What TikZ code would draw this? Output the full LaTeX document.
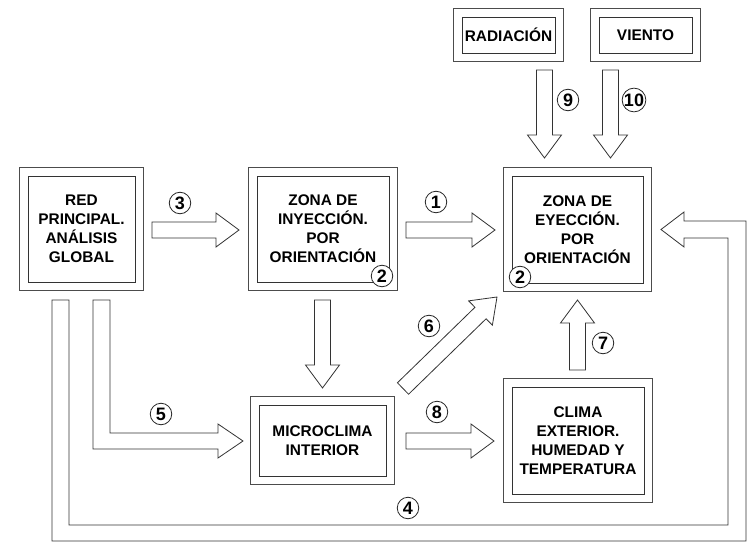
\documentclass[tikz,border=0pt]{standalone}
\usepackage{fontspec}
\setmainfont{Liberation Sans}
\usetikzlibrary{calc}

\tikzset{
  box/.style={draw=black!80, line width=0.8pt, align=center, inner sep=0pt,
    font=\fontsize{15.4}{19}\selectfont\bfseries},
  frame/.style={draw=black!70, line width=0.8pt},
  num/.style={circle, draw=black!85, fill=white, line width=0.8pt, inner sep=0pt,
    minimum size=21.5pt, font=\fontsize{18}{18}\selectfont\bfseries},
  blockarr/.style={draw=black!80, line width=0.8pt, fill=white, line join=miter}
}

% block arrow from tail #1 to tip #2
\newcommand{\blockarrow}[2]{%
  \coordinate (ba-c) at ($(#2)!23pt!(#1)$);
  \draw[blockarr] ($(#1)!8pt!90:(#2)$) -- ($(ba-c)!8pt!90:(#2)$)
    -- ($(ba-c)!17pt!90:(#2)$) -- (#2) -- ($(ba-c)!17pt!-90:(#2)$)
    -- ($(ba-c)!8pt!-90:(#2)$) -- ($(#1)!8pt!-90:(#2)$) -- cycle;}

\begin{document}
\begin{tikzpicture}[x=1pt,y=-1pt]
\useasboundingbox (0,0) rectangle (747,543);

% boxes (inner frame)
\node[box, minimum width=107pt, minimum height=106pt] (red) at (81.5,229) {RED\\PRINCIPAL.\\ANÁLISIS\\GLOBAL};
\node[box, minimum width=132pt, minimum height=106pt] (iny) at (323,229) {ZONA DE\\INYECCIÓN.\\POR\\ORIENTACIÓN};
\node[box, minimum width=131pt, minimum height=107pt] (eye) at (577.5,229.5) {ZONA DE\\EYECCIÓN.\\POR\\ORIENTACIÓN};
\node[box, minimum width=93pt, minimum height=36pt] (rad) at (508.5,35) {RADIACIÓN};
\node[box, minimum width=93pt, minimum height=36pt] (vie) at (645.5,35) {VIENTO};
\node[box, minimum width=127pt, minimum height=71pt] (mic) at (322.5,440.5) {MICROCLIMA\\INTERIOR};
\node[box, minimum width=132pt, minimum height=107pt] (cli) at (578,440.5) {CLIMA\\EXTERIOR.\\HUMEDAD Y\\TEMPERATURA};

% outer frames
\foreach \b in {red, iny, eye, rad, vie, mic, cli}
  \draw[frame] ($(\b.north west)+(-7.8,-7.8)$) rectangle ($(\b.south east)+(7.8,7.8)$);

% straight arrows
\coordinate (a3t) at (152,230);   \coordinate (a3h) at (239,230);
\coordinate (a1t) at (406,230);   \coordinate (a1h) at (495,230);
\coordinate (a9t) at (544.5,70);  \coordinate (a9h) at (544.5,158);
\coordinate (a10t) at (610.5,70); \coordinate (a10h) at (610.5,158);
\coordinate (adt) at (322.5,300); \coordinate (adh) at (322.5,388);
\coordinate (a8t) at (406,441);   \coordinate (a8h) at (494,441);
\coordinate (a7t) at (577.5,370); \coordinate (a7h) at (577.5,300);
\coordinate (a6t) at (403,388.5); \coordinate (a6h) at (497,297);
\foreach \t/\h in {a3t/a3h, a1t/a1h, a9t/a9h, a10t/a10h, adt/adh, a8t/a8h, a7t/a7h, a6t/a6h}
  \blockarrow{\t}{\h};

% arrow 5, red -> microclima
\coordinate (a5t) at (101.5,300); \coordinate (a5h) at (243,441);
\draw[blockarr] ($(a5t)+(-8.5,0)$) -- ($(a5t)+(8.5,0)$) |- ($(a5h)+(-25,-8)$)
  -- ++(0,-9) -- (a5h) -- ++(-25,17) -- ++(0,-9) -| ($(a5t)+(-8.5,0)$) -- cycle;

% arrow 4, red -> eyeccion round the bottom
\coordinate (a4t) at (60.5,300); \coordinate (a4h) at (661,229.5);
\draw[blockarr] ($(a4t)+(-8.5,0)$) -- ($(a4t)+(8.5,0)$) |- (728,525)
  |- ($(a4h)+(23,8.5)$) -- ++(0,9) -- (a4h) -- ++(23,-17.5) -- ++(0,9)
  -- (746,221) -- (746,541) -| ($(a4t)+(-8.5,0)$) -- cycle;

% numbers
\foreach \nm/\lbl/\x/\y in {n1/1/436/202, n2a/2/382/276, n2b/2/520/277, n3/3/180/203,
  n4/4/408/508, n5/5/161/414, n6/6/429/326, n7/7/603/343, n8/8/437/412,
  n9/9/568/100, n10/10/634/100}
  \node[num] (\nm) at (\x,\y) {\lbl};
\end{tikzpicture}
\end{document}
